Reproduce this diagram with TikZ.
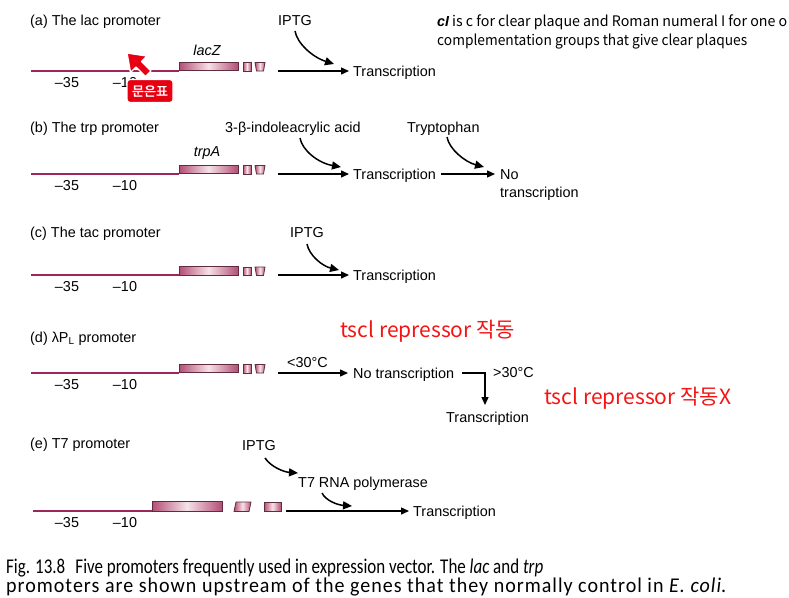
\documentclass[tikz,border=0pt]{standalone}
\usepackage{fontspec}
\usepackage{graphicx}
\setmainfont{Liberation Sans}
\newfontfamily\kr{Noto Sans CJK KR}[AutoFakeBold=2]
\newfontfamily\capfont{Carlito}
\newfontfamily\capfontsp{Carlito}[LetterSpace=5]
\usetikzlibrary{arrows.meta}
\definecolor{dnacol}{RGB}{158,38,92}
\definecolor{gdark}{RGB}{180,78,118}
\definecolor{glight}{RGB}{246,226,232}
\definecolor{gedge}{RGB}{95,45,62}
\definecolor{redtxt}{RGB}{245,20,20}
\definecolor{badge}{RGB}{230,0,18}
\newcommand\fs{\fontsize{14.4}{17}\selectfont}
\newcommand\dnaunit[2]{%
  \draw[dna] (31,#2) -- (179,#2);
  \draw[gene] (179,#2-8.5) rectangle (238,#2);
  \draw[gene] (243,#2-8) rectangle (251,#2+0.5);
  \draw[gene] (255,#2-8) -- (265,#2-8) -- (263.5,#2+0.5) -- (256.5,#2+0.5) -- cycle;
  \node[num] (#1m35) at (67,#2+16.5) {–35};
  \node[num] (#1m10) at (125,#2+16.5) {–10};
}
\begin{document}
\begin{tikzpicture}[x=1pt,y=-1pt,
  lbl/.style={inner sep=0pt, font=\fs, anchor=base west},
  num/.style={inner sep=0pt, font=\fs, anchor=base},
  arr/.style={line width=1.4pt, -{Triangle[length=8pt,width=7pt]}},
  carr/.style={line width=1.5pt, -{Triangle[length=9pt,width=8pt]}},
  dna/.style={line width=2pt, draw=dnacol},
  gene/.style={draw=gedge, line width=0.8pt, left color=gdark, right color=gdark, middle color=glight},
  redl/.style={inner sep=0pt, anchor=base west, text=redtxt, font=\kr\fontsize{21}{25}\selectfont}]
\useasboundingbox (0,0) rectangle (789,597);
\fill[white] (0,0) rectangle (789,597);

% ---------- top-right note
\node[inner sep=0pt, anchor=base west] (note1) at (437,26)
  {\resizebox{350pt}{\height}{\kr\fontsize{14.5}{17}\selectfont{\fontspec{Liberation Sans}\bfseries\itshape cI} is c for clear plaque and Roman numeral I for one o}};
\node[inner sep=0pt, anchor=base west] (note2) at (437,45)
  {\resizebox{310pt}{\height}{\kr\fontsize{14.5}{17}\selectfont complementation groups that give clear plaques}};

% ---------- (a)
\node[lbl] (tA) at (30,25) {(a) The lac promoter};
\dnaunit{a}{70.5}
\node[num, font=\fs\itshape] (lacZ) at (207,55) {lacZ};
\node[lbl] (iptgA) at (278,25) {IPTG};
\node[lbl] (trA) at (353,76) {Transcription};
\coordinate (aS) at (278,71);
\draw[arr] (aS) -- ([xshift=-4pt]trA.west |- aS);
\coordinate (cA1) at (295,31);
\coordinate (cA2) at (334,64);
\draw[carr] (cA1) .. controls (297,43) and (312,57) .. (cA2);

% cursor + badge
\draw[white, line width=1.4pt, fill=badge, line join=round]
  (127,53) -- (147,56) -- (141.5,61.5) -- (151,71) -- (145.5,76.5) -- (136,67) -- (130.5,72.5) -- cycle;
\node[fill=badge, draw=white, line width=1.2pt, rounded corners=3pt, minimum width=46pt, minimum height=23pt, inner sep=0pt,
  text=white, font=\kr\bfseries\fontsize{13}{15}\selectfont] (badgeA) at (150,91) {문은표};

% ---------- (b)
\node[lbl] (tB) at (30,132) {(b) The trp promoter};
\dnaunit{b}{173.5}
\node[num, font=\fs\itshape] (trpA) at (207,156) {trpA};
\node[lbl] (iaa) at (225,132) {3-β-indoleacrylic acid};
\node[lbl] (tryp) at (407,132) {Tryptophan};
\node[lbl] (trB) at (353,179) {Transcription};
\node[lbl] (noB) at (500,179) {No};
\node[lbl] (notrB) at (500,197) {transcription};
\coordinate (bS) at (278,174);
\draw[arr] (bS) -- ([xshift=-4pt]trB.west |- bS);
\coordinate (bS2) at ([xshift=5pt]trB.east |- bS);
\draw[arr] (bS2) -- ([xshift=-5pt]noB.west |- bS);
\coordinate (cB1) at (300,138);
\coordinate (cB2) at (341,167);
\draw[carr] (cB1) .. controls (302,150) and (318,163) .. (cB2);
\coordinate (cB3) at (447,137);
\coordinate (cB4) at (484,167);
\draw[carr] (cB3) .. controls (449,149) and (465,162) .. (cB4);

% ---------- (c)
\node[lbl] (tC) at (30,237) {(c) The tac promoter};
\dnaunit{c}{275}
\node[lbl] (iptgC) at (290,237) {IPTG};
\node[lbl] (trC) at (353,280) {Transcription};
\coordinate (cS) at (278,275);
\draw[arr] (cS) -- ([xshift=-4pt]trC.west |- cS);
\coordinate (cC1) at (307,244);
\coordinate (cC2) at (339,270);
\draw[carr] (cC1) .. controls (309,255) and (322,266) .. (cC2);

% ---------- (d)
\node[lbl] (tD) at (30,342) {(d) λP\textsubscript{L} promoter};
\dnaunit{d}{372.5}
\node[lbl] (lt30) at (287,367) {<30°C};
\node[lbl] (notrD) at (353,378) {No transcription};
\node[lbl] (gt30) at (493,377) {>30°C};
\node[lbl] (trD) at (446,422) {Transcription};
\coordinate (dS) at (278,373);
\draw[arr] (dS) -- ([xshift=-5pt]notrD.west |- dS);
\coordinate (dE1) at ([xshift=8pt]notrD.east |- dS);
\coordinate (dE2) at (485,373);
\coordinate (dE3) at (485,405);
\draw[arr] (dE1) -- (dE2) -- (dE3);
\node[redl] (rep1) at (340,337) {tscl repressor 작동};
\node[redl] (rep2) at (544,404) {tscl repressor 작동X};

% ---------- (e)
\node[lbl] (tE) at (30,448) {(e) T7 promoter};
\draw[dna] (33,511) -- (152,511);
\draw[gene] (152,501) rectangle (222,511.5);
\draw[gene] (236,502) -- (251,502) -- (249,511.5) -- (234,511.5) -- cycle;
\draw[gene] (264,502) rectangle (281,511.5);
\node[num] (em35) at (67,527) {–35};
\node[num] (em10) at (125,527) {–10};
\node[lbl] (iptgE) at (242,450) {IPTG};
\node[lbl] (t7rna) at (298,487) {T7 RNA polymerase};
\node[lbl] (trE) at (413,516) {Transcription};
\coordinate (eS) at (286,511);
\draw[arr] (eS) -- ([xshift=-4pt]trE.west |- eS);
\coordinate (cE1) at (265,458);
\coordinate (cE2) at (298,473);
\draw[carr] (cE1) .. controls (271,467) and (284,472) .. (cE2);
\coordinate (cE3) at (322,493);
\coordinate (cE4) at (352,506);
\draw[carr] (cE3) .. controls (326,501) and (338,505) .. (cE4);

% ---------- caption
\node[inner sep=0pt, anchor=base west] (cap1) at (6,573)
  {\resizebox{537pt}{\height}{\capfont\fontsize{21}{23}\selectfont Fig. 13.8\hspace{0.6em}Five promoters frequently used in expression vector. The \textit{lac} and \textit{trp}}};
\node[inner sep=0pt, anchor=base west] (cap2) at (6,592)
  {\resizebox{720pt}{\height}{\capfontsp\fontsize{21}{23}\selectfont promoters are shown upstream of the genes that they normally control in \textit{E. coli}.}};
\end{tikzpicture}
\end{document}
